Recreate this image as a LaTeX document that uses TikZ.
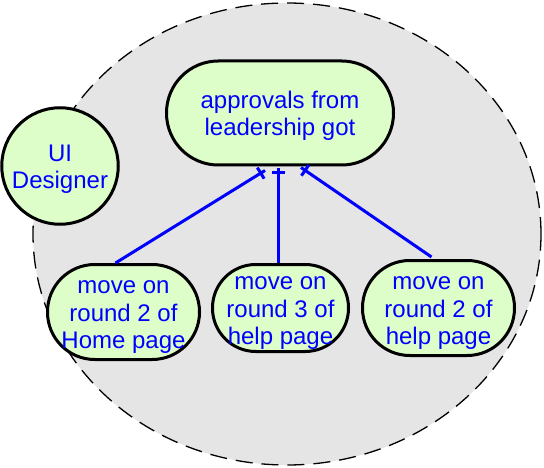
\documentclass[tikz,border=0pt]{standalone}
\usepackage{fontspec}
\setmainfont{Liberation Sans}
\usetikzlibrary{calc,decorations.markings}
\definecolor{nodegreen}{RGB}{221,253,201}
\definecolor{bggrey}{RGB}{229,229,229}
\definecolor{txtblue}{RGB}{0,0,255}
\newcommand\topstrut{\rule{0pt}{24pt}}
\newcommand\botstrut{\rule[-6pt]{0pt}{6pt}}
\begin{document}
\begin{tikzpicture}[x=1pt,y=-1pt,
  goal/.style={draw=black, line width=3pt, fill=nodegreen, text=txtblue, align=center, inner sep=0pt,
    font=\fontsize{24}{27.5}\selectfont},
  stadium/.style={goal, rectangle},
  actor/.style={goal, circle},
  boundary/.style={draw=black, line width=1.3pt, dash pattern=on 17pt off 9pt, fill=bggrey},
  link/.style={draw=txtblue, line width=3pt,
    decoration={markings, mark=at position -5pt with {\draw[txtblue, line width=3pt] (0pt,-6.5pt)--(0pt,6.5pt);}},
    postaction={decorate}},
]
\useasboundingbox (0,0) rectangle (544,468);
\path[boundary] (287,234) ellipse [x radius=254pt, y radius=231pt];

\node[actor, minimum size=116.5pt] (ui) at (60,166) {\topstrut UI\\Designer\botstrut};
\node[stadium, minimum width=227pt, minimum height=104pt, rounded corners=51.8pt] (app) at (280,113)
  {\topstrut approvals from\\leadership got\botstrut};
\node[stadium, minimum width=152pt, minimum height=95pt, rounded corners=47.3pt] (bl) at (123.5,312)
  {\topstrut move on\\round 2 of\\Home page\botstrut};
\node[stadium, minimum width=136pt, minimum height=87pt, rounded corners=43.3pt] (mid) at (280.5,308)
  {\topstrut move on\\round 3 of\\help page\botstrut};
\node[stadium, minimum width=152pt, minimum height=95pt, rounded corners=47.3pt] (rt) at (438.5,308)
  {\topstrut move on\\round 2 of\\help page\botstrut};

\draw[link] ($(bl.north)+(-8,0)$) -- ($(app.south)+(-15,4)$);
\draw[link] ($(mid.north)+(-2.5,0)$) -- ($(app.south)+(-2,1.5)$);
\draw[link] ($(rt.north)+(-7,-2)$) -- ($(app.south)+(21,1)$);
\end{tikzpicture}
\end{document}
